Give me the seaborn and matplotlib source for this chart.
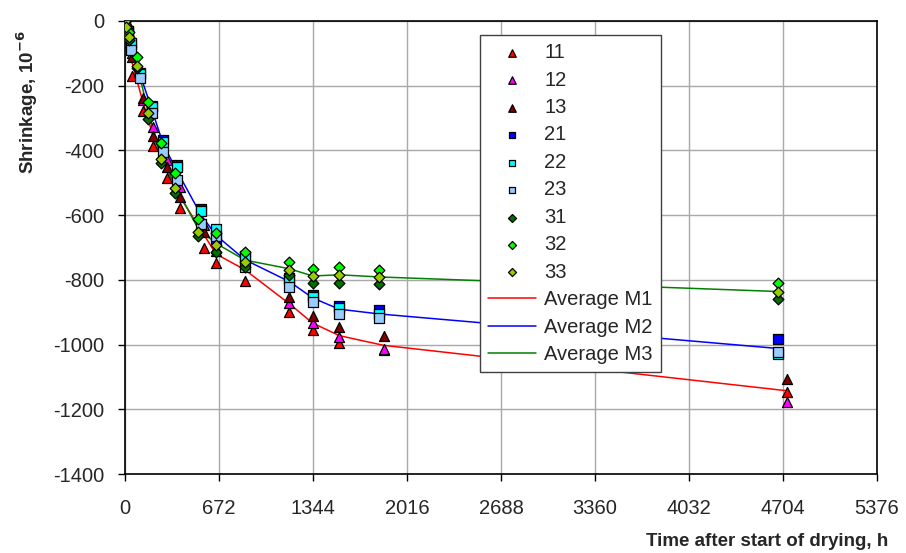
import numpy as np
import pandas as pd
import matplotlib
matplotlib.use("Agg")
import matplotlib.pyplot as plt
import seaborn as sns

# measurement times (h) for each mix
t_m1 = [0, 50, 130, 202, 300, 395, 565, 650, 858, 1175, 1342, 1532, 1848, 4730]
t_m2 = [0, 20, 40, 110, 190, 274, 370, 541, 650, 858, 1175, 1342, 1532, 1818, 4666]
t_m3 = [0, 8, 28, 85, 164, 255, 355, 524, 650, 858, 1175, 1342, 1532, 1818, 4666]

# shrinkage readings, 10^-6
s11 = [0, -170, -278, -386, -486, -578, -700, -749, -805, -899, -955, -994, -1018, -1146]
s12 = [0, -100, -245, -328, -429, -512, -632, -711, -750, -871, -934, -978, -1015, -1177]
s13 = [0, -112, -238, -354, -450, -543, -651, -700, -752, -852, -912, -945, -974, -1105]

s21 = [0, -30, -70, -160, -262, -368, -445, -580, -677, -725, -795, -848, -880, -893, -984]
s22 = [0, -32, -68, -165, -266, -373, -450, -586, -644, -729, -800, -852, -888, -904, -1030]
s23 = [0, -37, -90, -177, -285, -404, -491, -627, -665, -760, -821, -868, -904, -919, -1022]

s31 = [0, -20, -58, -146, -302, -440, -533, -665, -713, -760, -785, -811, -809, -813, -860]
s32 = [0, -12, -35, -110, -250, -378, -470, -612, -656, -713, -744, -765, -759, -768, -811]
s33 = [0, -19, -50, -139, -283, -428, -517, -651, -692, -744, -768, -788, -785, -792, -837]

specimens = ['11', '12', '13', '21', '22', '23', '31', '32', '33']
mixes = ['M1', 'M1', 'M1', 'M2', 'M2', 'M2', 'M3', 'M3', 'M3']
times = [t_m1, t_m1, t_m1, t_m2, t_m2, t_m2, t_m3, t_m3, t_m3]
values = [s11, s12, s13, s21, s22, s23, s31, s32, s33]

colors = {'11': '#FF0000', '12': '#FF00FF', '13': '#800000',
          '21': '#0000FF', '22': '#00FFFF', '23': '#99CCFF',
          '31': '#007000', '32': '#00FF00', '33': '#99CC00'}
markers = {'M1': '^', 'M2': 's', 'M3': 'D'}
msize = {'M1': 52, 'M2': 44, 'M3': 30}
line_colors = {'M1': '#FF0000', 'M2': '#0000FF', 'M3': '#008000'}

rows = []
for sp, mx, tt, vv in zip(specimens, mixes, times, values):
    for t, v in zip(tt, vv):
        rows.append({'t': t, 'v': v, 'specimen': sp, 'mix': mx})
df = pd.DataFrame(rows)

sns.set_style('white')
plt.rcParams['font.family'] = ['Liberation Sans', 'DejaVu Sans']
plt.rcParams['axes.unicode_minus'] = False

fig = plt.figure(figsize=(9.06, 5.53), dpi=100)
ax = fig.add_axes([125 / 906, 1 - 474 / 553, 752 / 906, 453 / 553])

# average lines (behind the markers)
for mx in ['M1', 'M2', 'M3']:
    sns.lineplot(data=df[df['mix'] == mx], x='t', y='v', estimator='mean',
                 errorbar=None, color=line_colors[mx], linewidth=1.1,
                 label='Average ' + mx, ax=ax, zorder=2)

for sp, mx in zip(specimens, mixes):
    sns.scatterplot(data=df[df['specimen'] == sp], x='t', y='v',
                    marker=markers[mx], s=msize[mx], color=colors[sp],
                    edgecolor='black', linewidth=0.9, label=sp, ax=ax, zorder=3)

ax.set_xlim(0, 5376)
ax.set_ylim(-1400, 0)
ax.set_xticks(np.arange(0, 5377, 672))
ax.set_yticks(np.arange(-1400, 1, 200))
ax.grid(True, color='#A8A8A8', linewidth=1)
ax.set_axisbelow(True)
for sp in ax.spines.values():
    sp.set_color('black')
    sp.set_linewidth(1.2)
ax.tick_params(axis='both', labelsize=14.5, length=5, width=1, color='black',
               direction='out', bottom=True, left=True)
ax.tick_params(axis='x', pad=13)
ax.tick_params(axis='y', pad=10)
ax.set_xlabel('')
ax.set_ylabel('')

fig.text(27 / 906, 1 - 102 / 553, r'Shrinkage, 10$^{\mathbf{-6}}$', rotation=90,
         ha='center', va='center', fontsize=13.5, fontweight='bold')
fig.text(888 / 906, 1 - 541 / 553, 'Time after start of drying, h',
         ha='right', va='center', fontsize=13.5, fontweight='bold')

# legend: specimens first, then the averages
handles, labels = ax.get_legend_handles_labels()
order = specimens + ['Average M1', 'Average M2', 'Average M3']
hmap = dict(zip(labels, handles))
leg = ax.legend([hmap[k] for k in order], order, loc='upper left',
                bbox_to_anchor=((480 - 125) / 752, 1 - (35 - 21) / 453),
                borderaxespad=0, fontsize=14.5, frameon=True, fancybox=False,
                edgecolor='#404040', framealpha=1, labelspacing=0.42,
                handlelength=2.4, handletextpad=0.4, borderpad=0.4,
                markerscale=0.75)
leg.get_frame().set_linewidth(1.0)
leg.set_zorder(5)

fig.savefig('out.png', dpi=100)
